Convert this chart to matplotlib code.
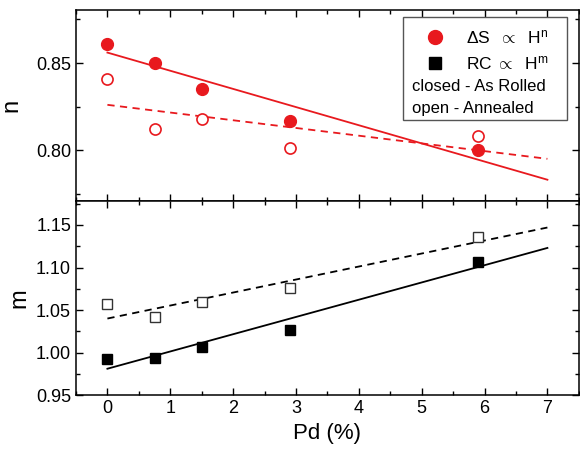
import matplotlib
matplotlib.use('Agg')
import matplotlib.pyplot as plt
from matplotlib.lines import Line2D
from matplotlib.patches import Rectangle

# Pd content (%)
pd_x = [0, 0.75, 1.5, 2.9, 5.9]

# exponent n (Delta S ~ H^n)
n_rolled = [0.861, 0.850, 0.835, 0.817, 0.800]
n_annealed = [0.841, 0.812, 0.818, 0.801, 0.808]

# exponent m (RC ~ H^m)
m_rolled = [0.992, 0.994, 1.006, 1.027, 1.106]
m_annealed = [1.057, 1.042, 1.060, 1.076, 1.136]

# linear fit end points
fit_x = [0, 7]
n_fit_rolled = [0.856, 0.783]
n_fit_annealed = [0.826, 0.795]
m_fit_rolled = [0.981, 1.123]
m_fit_annealed = [1.040, 1.147]

plt.rcParams['font.family'] = ['Liberation Sans', 'DejaVu Sans']
plt.rcParams['mathtext.fontset'] = 'custom'
plt.rcParams['mathtext.rm'] = 'Liberation Sans'
plt.rcParams['mathtext.it'] = 'Liberation Sans'

red = '#e8191e'

fig = plt.figure(figsize=(5.8, 4.5), dpi=100)
ax1 = fig.add_axes([0.131, 0.553, 0.867, 0.425])
ax2 = fig.add_axes([0.131, 0.122, 0.867, 0.431], sharex=ax1)

# top panel: n
ax1.plot(pd_x, n_rolled, 'o', color=red, ms=8.5, zorder=3)
ax1.plot(pd_x, n_annealed, 'o', mfc='white', mec=red, mew=1.2, ms=8, zorder=3)
ax1.plot(fit_x, n_fit_rolled, '-', color=red, lw=1.3)
ax1.plot(fit_x, n_fit_annealed, '--', color=red, lw=1.3, dashes=(4, 3))
ax1.set_ylim(0.7707, 0.8805)
ax1.set_yticks([0.80, 0.85])
ax1.set_yticks([0.775, 0.825, 0.875], minor=True)
ax1.set_yticklabels(['0.80', '0.85'])
ax1.set_ylabel('n', fontsize=17, labelpad=10)
ax1.tick_params(labelbottom=False)

# bottom panel: m
ax2.plot(pd_x, m_rolled, 's', color='black', ms=7.5, zorder=3)
ax2.plot(pd_x, m_annealed, 's', mfc='white', mec='#333333', mew=1.0, ms=7.5, zorder=3)
ax2.plot(fit_x, m_fit_rolled, '-', color='black', lw=1.3)
ax2.plot(fit_x, m_fit_annealed, '--', color='black', lw=1.3, dashes=(4, 3))
ax2.set_ylim(0.95, 1.178)
ax2.set_yticks([0.95, 1.00, 1.05, 1.10, 1.15])
ax2.set_yticks([0.975, 1.025, 1.075, 1.125, 1.175], minor=True)
ax2.set_yticklabels(['0.95', '1.00', '1.05', '1.10', '1.15'])
ax2.set_ylabel('m', fontsize=17, labelpad=4)

ax2.set_xlim(-0.49, 7.41)
ax2.set_xticks(range(8))
ax2.set_xticks([x + 0.5 for x in range(-1, 8)], minor=True)
ax2.set_xlabel('Pd (%)', fontsize=16, labelpad=4)

for ax in (ax1, ax2):
    ax.tick_params(which='both', direction='in', top=True, right=True,
                   labelsize=13, width=1)
    ax.tick_params(which='major', length=5)
    ax.tick_params(which='minor', length=3)
    for s in ax.spines.values():
        s.set_linewidth(1.1)

# legend box
box = Rectangle((0.650, 0.424), 0.326, 0.539, transform=ax1.transAxes,
                facecolor='white', edgecolor='#555555', lw=1.0, zorder=5)
ax1.add_patch(box)
handles = [Line2D([], [], ls='none', marker='o', color=red, ms=10),
           Line2D([], [], ls='none', marker='s', color='black', ms=8)]
labels = [r'$\Delta$S  $\propto$  H$^\mathregular{n}$',
          r'RC $\propto$  H$^\mathregular{m}$']
leg = ax1.legend(handles, labels, loc='upper left',
                 bbox_to_anchor=(0.665, 0.975), frameon=False, fontsize=12.5,
                 handlelength=1.2, handletextpad=1.2, labelspacing=0.45,
                 borderpad=0.3)
leg.set_zorder(6)
ax1.text(0.669, 0.597, 'closed - As Rolled', transform=ax1.transAxes,
         fontsize=12, va='center', zorder=6)
ax1.text(0.669, 0.487, 'open - Annealed', transform=ax1.transAxes,
         fontsize=12, va='center', zorder=6)

fig.savefig('out.png', dpi=100)
